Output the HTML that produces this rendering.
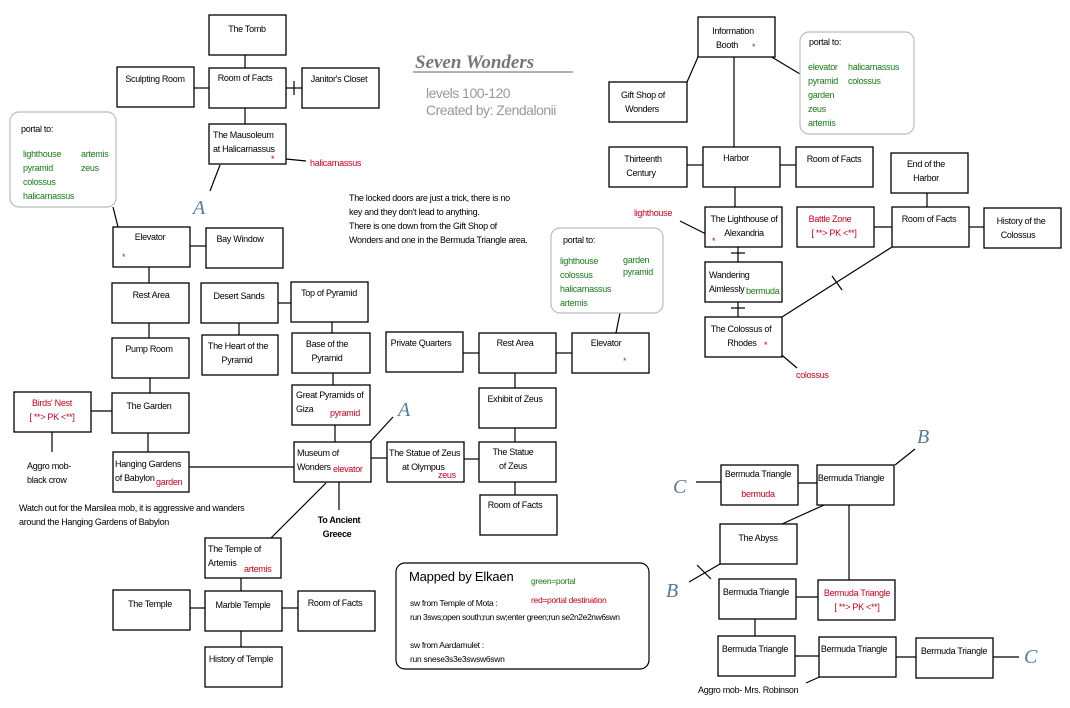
<!DOCTYPE html>
<html><head><meta charset="utf-8"><style>
html,body{margin:0;padding:0;background:#fff;}
svg{display:block;}
text{font-family:"Liberation Sans",sans-serif;font-size:9px;letter-spacing:-0.3px;fill:#000;}
.r{fill:#c8001e;} .g{fill:#1a7a1a;}
rect.b{fill:#fff;stroke:#000;stroke-width:1.3;}
line,polyline{stroke:#000;stroke-width:1.2;}
.pt{fill:#fff;stroke:#bbb;stroke-width:1.2;}
.L{font-family:"Liberation Serif",serif;font-style:italic;font-size:20px;fill:#5a7a9a;letter-spacing:0;}
</style></head><body>
<svg width="1070" height="708" viewBox="0 0 1070 708" xmlns="http://www.w3.org/2000/svg">
<g>
<line x1="245" y1="55" x2="245" y2="68"/><line x1="194" y1="88" x2="209" y2="88"/>
<line x1="286" y1="88" x2="302" y2="88"/><line x1="294" y1="81" x2="294" y2="95"/>
<line x1="245" y1="108" x2="245" y2="124"/><line x1="220" y1="165" x2="210" y2="191"/>
<line x1="190" y1="246" x2="206" y2="246"/><line x1="149" y1="267" x2="149" y2="283"/>
<line x1="149" y1="323" x2="149" y2="338"/><line x1="150" y1="378" x2="150" y2="393"/>
<line x1="278" y1="303" x2="291" y2="303"/><line x1="239" y1="323" x2="239" y2="335"/>
<line x1="332" y1="322" x2="332" y2="333"/><line x1="333" y1="373" x2="333" y2="385"/>
<line x1="335" y1="425" x2="335" y2="442"/>
<line x1="91" y1="411" x2="112" y2="411"/><line x1="148" y1="433" x2="148" y2="452"/>
<line x1="189" y1="467" x2="294" y2="467"/>
<line x1="371" y1="458" x2="387" y2="458"/><line x1="464" y1="459" x2="479" y2="459"/>
<line x1="339" y1="482" x2="339" y2="510"/>
<line x1="326" y1="483" x2="271" y2="538"/><line x1="370" y1="442" x2="393" y2="417"/>
<line x1="463" y1="353" x2="479" y2="353"/><line x1="556" y1="353" x2="572" y2="353"/>
<line x1="515" y1="373" x2="515" y2="388"/><line x1="515" y1="428" x2="515" y2="442"/>
<line x1="515" y1="482" x2="515" y2="495"/>
<line x1="241" y1="578" x2="241" y2="591"/><line x1="190" y1="608" x2="205" y2="608"/>
<line x1="282" y1="608" x2="298" y2="608"/><line x1="241" y1="631" x2="241" y2="647"/>
<line x1="698" y1="57" x2="687" y2="82"/><line x1="734" y1="57" x2="734" y2="147"/>
<line x1="687" y1="165" x2="703" y2="165"/><line x1="780" y1="165" x2="796" y2="165"/>
<line x1="735" y1="187" x2="735" y2="207"/>
<line x1="738" y1="247" x2="738" y2="262"/><line x1="731" y1="253" x2="745" y2="253"/>
<line x1="738" y1="302" x2="738" y2="317"/><line x1="731" y1="308" x2="745" y2="308"/>
<line x1="782" y1="317" x2="892" y2="247"/><line x1="832" y1="276" x2="842" y2="290"/>
<line x1="874" y1="227" x2="892" y2="227"/><line x1="927" y1="193" x2="927" y2="207"/>
<line x1="969" y1="227" x2="984" y2="227"/>
<line x1="696" y1="482" x2="721" y2="482"/><line x1="798" y1="483" x2="817" y2="483"/>
<line x1="895" y1="465" x2="915" y2="449"/><line x1="782" y1="524" x2="824" y2="505"/>
<line x1="849" y1="505" x2="849" y2="580"/><line x1="720" y1="564" x2="689" y2="582"/>
<line x1="697" y1="565" x2="711" y2="579"/>
<line x1="796" y1="597" x2="818" y2="597"/><line x1="755" y1="619" x2="755" y2="636"/>
<line x1="795" y1="656" x2="819" y2="656"/><line x1="896" y1="657" x2="916" y2="657"/>
<line x1="993" y1="657" x2="1019" y2="657"/>
</g>
<g style="stroke:#aaa">
<line x1="113" y1="207" x2="123" y2="247"/><line x1="620" y1="313" x2="613" y2="348"/>
<line x1="760" y1="50" x2="800" y2="74"/>
</g>
<g style="stroke:#c8001e">
<line x1="276" y1="158" x2="306" y2="161"/><line x1="52" y1="432" x2="52" y2="452"/>
<line x1="680" y1="221" x2="712" y2="237"/><line x1="770" y1="345" x2="797" y2="368"/>
<line x1="806" y1="683" x2="835" y2="670"/>
</g>
<rect class="pt" x="10" y="112" width="106" height="95" rx="9"/>
<rect class="pt" x="551" y="228" width="112" height="85" rx="9"/>
<rect class="pt" x="800" y="32" width="114" height="102" rx="9"/>
<rect x="396" y="563" width="253" height="106" rx="9" style="fill:#fff;stroke:#000;stroke-width:1.2"/>
<g>
<rect class="b" x="209" y="15" width="77" height="40"/>
<rect class="b" x="117" y="67" width="77" height="40"/>
<rect class="b" x="209" y="68" width="77" height="40"/>
<rect class="b" x="302" y="68" width="77" height="40"/>
<rect class="b" x="209" y="124" width="77" height="40"/>
<rect class="b" x="113" y="227" width="77" height="40"/>
<rect class="b" x="206" y="228" width="77" height="40"/>
<rect class="b" x="112" y="283" width="77" height="40"/>
<rect class="b" x="201" y="283" width="77" height="40"/>
<rect class="b" x="291" y="282" width="77" height="40"/>
<rect class="b" x="112" y="338" width="77" height="40"/>
<rect class="b" x="202" y="335" width="76" height="40"/>
<rect class="b" x="292" y="333" width="78" height="40"/>
<rect class="b" x="386" y="332" width="77" height="40"/>
<rect class="b" x="479" y="333" width="77" height="40"/>
<rect class="b" x="572" y="333" width="77" height="40"/>
<rect class="b" x="14" y="392" width="77" height="40"/>
<rect class="b" x="112" y="393" width="77" height="40"/>
<rect class="b" x="292" y="385" width="78" height="40"/>
<rect class="b" x="479" y="388" width="77" height="40"/>
<rect class="b" x="113" y="452" width="76" height="40"/>
<rect class="b" x="294" y="442" width="77" height="40"/>
<rect class="b" x="387" y="442" width="77" height="40"/>
<rect class="b" x="479" y="442" width="77" height="40"/>
<rect class="b" x="480" y="495" width="77" height="40"/>
<rect class="b" x="205" y="538" width="76" height="40"/>
<rect class="b" x="113" y="590" width="77" height="40"/>
<rect class="b" x="205" y="591" width="77" height="40"/>
<rect class="b" x="298" y="591" width="77" height="40"/>
<rect class="b" x="205" y="647" width="77" height="40"/>
<rect class="b" x="698" y="17" width="77" height="40"/>
<rect class="b" x="609" y="82" width="78" height="40"/>
<rect class="b" x="609" y="147" width="78" height="40"/>
<rect class="b" x="703" y="147" width="77" height="40"/>
<rect class="b" x="796" y="147" width="77" height="40"/>
<rect class="b" x="891" y="153" width="77" height="40"/>
<rect class="b" x="705" y="207" width="77" height="40"/>
<rect class="b" x="797" y="207" width="77" height="40"/>
<rect class="b" x="892" y="207" width="77" height="40"/>
<rect class="b" x="984" y="208" width="77" height="40"/>
<rect class="b" x="705" y="262" width="77" height="40"/>
<rect class="b" x="705" y="317" width="77" height="40"/>
<rect class="b" x="721" y="465" width="77" height="40"/>
<rect class="b" x="817" y="465" width="77" height="40"/>
<rect class="b" x="720" y="524" width="77" height="40"/>
<rect class="b" x="719" y="579" width="77" height="40"/>
<rect class="b" x="818" y="580" width="77" height="40"/>
<rect class="b" x="718" y="636" width="77" height="40"/>
<rect class="b" x="819" y="637" width="77" height="40"/>
<rect class="b" x="916" y="638" width="77" height="40"/>
</g>
<g text-anchor="middle">
<text x="247" y="32">The Tomb</text>
<text x="155" y="82">Sculpting Room</text>
<text x="245" y="81">Room of Facts</text>
<text x="339" y="82">Janitor's Closet</text>
<text x="150" y="240">Elevator</text>
<text x="240" y="242">Bay Window</text>
<text x="151" y="298">Rest Area</text>
<text x="239" y="299">Desert Sands</text>
<text x="329" y="296">Top of Pyramid</text>
<text x="149" y="352">Pump Room</text>
<text x="238" y="349">The Heart of the</text><text x="237" y="363">Pyramid</text>
<text x="327" y="347">Base of the</text><text x="327" y="361">Pyramid</text>
<text x="421" y="346">Private Quarters</text>
<text x="515" y="346">Rest Area</text>
<text x="606" y="346">Elevator</text>
<text class="r" x="52" y="406">Birds' Nest</text><text class="r" x="52" y="420">[ **&gt; PK &lt;**]</text>
<text x="149" y="409">The Garden</text>
<text x="515" y="402">Exhibit of Zeus</text>
<text x="513" y="455">The Statue</text><text x="513" y="469">of Zeus</text>
<text x="515" y="508">Room of Facts</text>
<text x="150" y="607">The Temple</text>
<text x="243" y="608">Marble Temple</text>
<text x="335" y="606">Room of Facts</text>
<text x="241" y="662">History of Temple</text>
<text x="733" y="34">Information</text><text x="727" y="48">Booth</text>
<text x="643" y="98">Gift Shop of</text><text x="642" y="112">Wonders</text>
<text x="643" y="162">Thirteenth</text><text x="641" y="176">Century</text>
<text x="736" y="161">Harbor</text>
<text x="834" y="162">Room of Facts</text>
<text x="926" y="167">End of the</text><text x="926" y="181">Harbor</text>
<text x="744" y="222">The Lighthouse of</text><text x="744" y="236">Alexandria</text>
<text class="r" x="830" y="222">Battle Zone</text><text class="r" x="834" y="236">[ **&gt; PK &lt;**]</text>
<text x="929" y="222">Room of Facts</text>
<text x="1021" y="224">History of the</text><text x="1018" y="238">Colossus</text>
<text x="741" y="332">The Colossus of</text><text x="742" y="346">Rhodes</text>
<text x="758" y="477">Bermuda Triangle</text>
<text class="r" x="758" y="497">bermuda</text>
<text x="851" y="481">Bermuda Triangle</text>
<text x="758" y="541">The Abyss</text>
<text x="756" y="595">Bermuda Triangle</text>
<text class="r" x="857" y="596">Bermuda Triangle</text><text class="r" x="857" y="610">[ **&gt; PK &lt;**]</text>
<text x="755" y="652">Bermuda Triangle</text>
<text x="854" y="652">Bermuda Triangle</text>
<text x="954" y="654">Bermuda Triangle</text>
<text x="339" y="523" style="font-weight:bold">To Ancient</text>
<text x="337" y="537" style="font-weight:bold">Greece</text>
</g>
<g>
<text x="213" y="138">The Mausoleum</text><text x="213" y="152">at Halicarnassus</text>
<text class="r" x="271" y="162">*</text><text class="r" x="310" y="166">halicarnassus</text>
<text class="g" x="122" y="260">*</text>
<text x="296" y="398">Great Pyramids of</text><text x="296" y="412">Giza</text><text class="r" x="330" y="416">pyramid</text>
<text x="115" y="467">Hanging Gardens</text><text x="115" y="481">of Babylon</text><text class="r" x="156" y="485">garden</text>
<text x="297" y="456">Museum of</text><text x="297" y="470">Wonders</text><text class="r" x="333" y="472">elevator</text>
<text x="389" y="456">The Statue of Zeus</text><text x="402" y="470">at Olympus</text><text class="r" x="438" y="478">zeus</text>
<text x="208" y="552">The Temple of</text><text x="208" y="566">Artemis</text><text class="r" x="244" y="572">artemis</text>
<text class="g" x="623" y="364">*</text>
<text class="g" x="752" y="50">*</text>
<text x="709" y="278">Wandering</text><text x="709" y="292">Aimlessly</text><text class="g" x="746" y="294">bermuda</text>
<text class="r" x="712" y="244">*</text><text class="r" x="634" y="216">lighthouse</text>
<text class="r" x="764" y="348">*</text><text class="r" x="796" y="378">colossus</text>
<text x="27" y="469">Aggro mob-</text><text x="27" y="483">black crow</text>
<text x="19" y="511">Watch out for the Marsilea mob, it is aggressive and wanders</text>
<text x="19" y="525">around the Hanging Gardens of Babylon</text>
<text x="349" y="201">The locked doors are just a trick, there is no</text>
<text x="349" y="215">key and they don't lead to anything.</text>
<text x="349" y="229">There is one down from the Gift Shop of</text>
<text x="349" y="243">Wonders and one in the Bermuda Triangle area.</text>
<text x="698" y="693">Aggro mob- Mrs. Robinson</text>
<text x="21" y="132">portal to:</text>
<text class="g" x="23" y="157">lighthouse</text><text class="g" x="23" y="171">pyramid</text><text class="g" x="23" y="185">colossus</text><text class="g" x="23" y="199">halicarnassus</text>
<text class="g" x="81" y="157">artemis</text><text class="g" x="81" y="171">zeus</text>
<text x="563" y="243">portal to:</text>
<text class="g" x="560" y="264">lighthouse</text><text class="g" x="560" y="278">colossus</text><text class="g" x="560" y="292">halicarnassus</text><text class="g" x="560" y="306">artemis</text>
<text class="g" x="623" y="263">garden</text><text class="g" x="623" y="275">pyramid</text>
<text x="809" y="45">portal to:</text>
<text class="g" x="808" y="70">elevator</text><text class="g" x="808" y="84">pyramid</text><text class="g" x="808" y="98">garden</text><text class="g" x="808" y="112">zeus</text><text class="g" x="808" y="126">artemis</text>
<text class="g" x="848" y="70">halicarnassus</text><text class="g" x="848" y="84">colossus</text>
<text x="409" y="581" style="font-size:13px;letter-spacing:-0.2px">Mapped by Elkaen</text>
<text class="g" x="531" y="584" style="font-size:8.5px">green=portal</text>
<text class="r" x="531" y="603" style="font-size:8.5px">red=portal destination</text>
<text x="410" y="606" style="font-size:8.5px">sw from Temple of Mota :</text>
<text x="410" y="620" style="font-size:8.5px;letter-spacing:-0.4px">run 3sws;open south;run sw;enter green;run se2n2e2nw6swn</text>
<text x="410" y="648" style="font-size:8.5px">sw from Aardamulet :</text>
<text x="410" y="662" style="font-size:8.5px">run snese3s3e3swsw6swn</text>
<text x="415" y="68" style="font-family:'Liberation Serif',serif;font-style:italic;font-weight:bold;font-size:19px;fill:#777;letter-spacing:0">Seven Wonders</text>
<line x1="413" y1="72" x2="573" y2="72" style="stroke:#999;stroke-width:1.5"/>
<text x="426" y="98" style="font-size:14px;fill:#999;letter-spacing:-0.5px">levels 100-120</text>
<text x="426" y="115" style="font-size:14px;fill:#999;letter-spacing:-0.5px">Created by: Zendalonii</text>
<text class="L" x="193" y="214">A</text>
<text class="L" x="398" y="416">A</text>
<text class="L" x="917" y="443">B</text>
<text class="L" x="666" y="597">B</text>
<text class="L" x="673" y="493">C</text>
<text class="L" x="1024" y="663">C</text>
</g>
</svg>
</body></html>
